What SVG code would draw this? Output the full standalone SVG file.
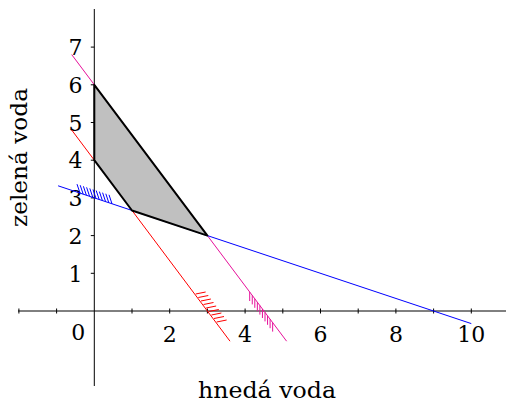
<svg xmlns="http://www.w3.org/2000/svg" width="507" height="403" viewBox="0 0 507 403">
<style>
.ax{stroke:#000;stroke-width:1;fill:none}
.tk{stroke:#000;stroke-width:1}
text{font-family:'DejaVu Serif','Liberation Serif',serif;font-size:22px;fill:#000}
.b{stroke:#0000ff;stroke-width:1;fill:none}
.r{stroke:#ff0000;stroke-width:1;fill:none}
.m{stroke:#e6109a;stroke-width:1;fill:none}
</style>
<rect width="507" height="403" fill="#fff"/>
<g id="axes">
<line class="ax" x1="18" y1="311" x2="506" y2="311"/>
<line class="ax" x1="94.3" y1="9" x2="94.3" y2="386"/>
<g class="tk">
<line x1="18.9" y1="308.5" x2="18.9" y2="313.5"/>
<line x1="56.6" y1="308.5" x2="56.6" y2="313.5"/>
<line x1="132" y1="308.5" x2="132" y2="313.5"/>
<line x1="169.7" y1="308.5" x2="169.7" y2="313.5"/>
<line x1="207.4" y1="308.5" x2="207.4" y2="313.5"/>
<line x1="245.1" y1="308.5" x2="245.1" y2="313.5"/>
<line x1="282.8" y1="308.5" x2="282.8" y2="313.5"/>
<line x1="320.5" y1="308.5" x2="320.5" y2="313.5"/>
<line x1="358.2" y1="308.5" x2="358.2" y2="313.5"/>
<line x1="395.9" y1="308.5" x2="395.9" y2="313.5"/>
<line x1="433.6" y1="308.5" x2="433.6" y2="313.5"/>
<line x1="471.3" y1="308.5" x2="471.3" y2="313.5"/>
<line x1="90.8" y1="273.3" x2="94.3" y2="273.3"/>
<line x1="90.8" y1="235.6" x2="94.3" y2="235.6"/>
<line x1="90.8" y1="197.9" x2="94.3" y2="197.9"/>
<line x1="90.8" y1="160.2" x2="94.3" y2="160.2"/>
<line x1="90.8" y1="122.5" x2="94.3" y2="122.5"/>
<line x1="90.8" y1="84.8" x2="94.3" y2="84.8"/>
<line x1="90.8" y1="47.1" x2="94.3" y2="47.1"/>
</g>
<g text-anchor="middle">
<text x="78.3" y="339.5">0</text>
<text x="169.7" y="341.5">2</text>
<text x="245.1" y="341.5">4</text>
<text x="320.5" y="341.5">6</text>
<text x="395.9" y="341.5">8</text>
<text x="471.3" y="341.5">10</text>
<text x="75.5" y="281.5">1</text>
<text x="75.5" y="243.8">2</text>
<text x="75.5" y="206.1">3</text>
<text x="75.5" y="168.4">4</text>
<text x="75.5" y="130.7">5</text>
<text x="75.5" y="93">6</text>
<text x="75.5" y="55.3">7</text>
</g>
<text x="267" y="398" text-anchor="middle" textLength="138" lengthAdjust="spacingAndGlyphs">hnedá voda</text>
<text transform="translate(27,157.5) rotate(-90)" x="0" y="0" text-anchor="middle" textLength="139" lengthAdjust="spacingAndGlyphs">zelená voda</text>
</g>
<g id="connectors">
<line class="r" x1="71.7" y1="130" x2="230" y2="341.2"/>
<line class="m" x1="71.7" y1="54.6" x2="286.6" y2="341.2"/>
<line class="b" x1="58.1" y1="185.8" x2="471.3" y2="323.6"/>
<path class="b" d="M80,193.13l-3,-9M83.2,194.2l-3,-9M86.4,195.27l-3,-9M89.6,196.33l-3,-9M92.8,197.4l-3,-9M96,198.47l-3,-9M99.2,199.53l-3,-9M102.4,200.6l-3,-9M105.6,201.67l-3,-9M108.8,202.73l-3,-9M112,203.8l-3,-9"/>
<path class="r" d="M195.65,294l10,-2M198.3,297.5l10,-2M200.9,301l10,-2M203.5,304.5l10,-2M206.15,308l10,-2M208.8,311.5l10,-2M211.4,315l10,-2M214,318.5l10,-2M216.65,322l10,-2"/>
<path class="m" d="M249.7,292l0,9M252.25,295.4l0,9M254.8,298.8l0,9M257.35,302.2l0,9M259.9,305.6l0,9M262.45,309l0,9M265,312.4l0,9M267.55,315.8l0,9M270.1,319.2l0,9M272.65,322.6l0,9"/>
</g>
<g id="region">
<polygon points="94.3,84.8 207.4,235.6 132,210.5 94.3,160.2" fill="#c0c0c0" stroke="#000" stroke-width="2" stroke-linejoin="round"/>
</g>
</svg>
